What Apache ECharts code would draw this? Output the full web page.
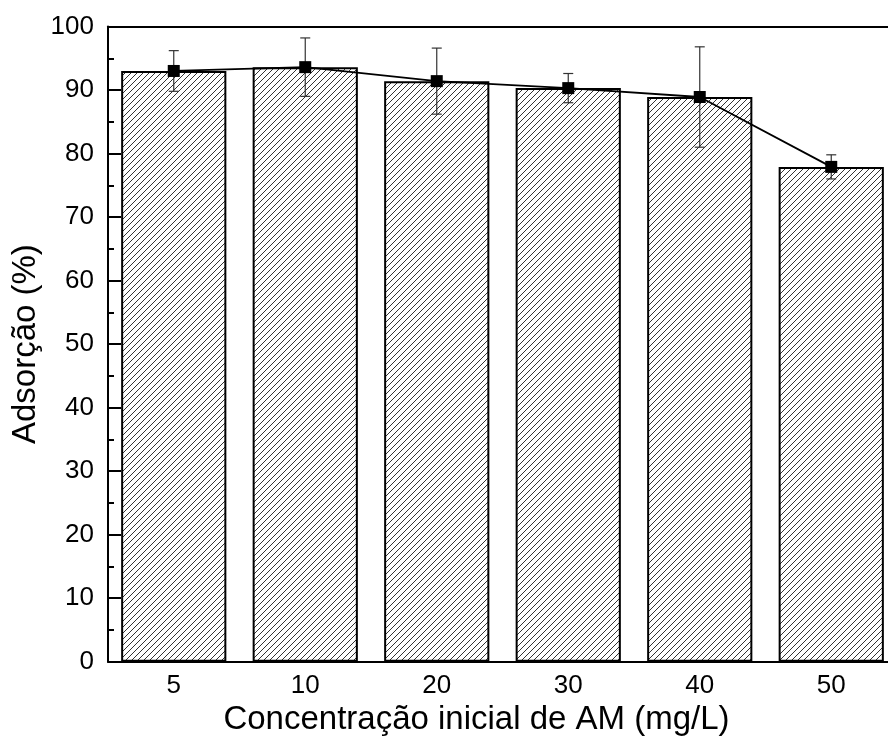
<!DOCTYPE html>
<html>
<head>
<meta charset="utf-8">
<script src="https://cdn.jsdelivr.net/npm/echarts@6/dist/echarts.min.js"></script>
<style>
  html, body { margin: 0; padding: 0; background: #fff; overflow: hidden; }
  #chart { width: 900px; height: 738px; }
</style>
</head>
<body>
<div id="chart"></div>
<script>
// Concentração inicial de azul de metileno (mg/L)
const concentracoes = ['5', '10', '20', '30', '40', '50'];
// Adsorção média (%)
const adsorcao = [93.0, 93.6, 91.4, 90.3, 88.9, 77.9];
// Desvio padrão (%)
const desvio = [3.2, 4.6, 5.2, 2.3, 7.9, 1.9];
// Marcas do eixo y
const yMin = 0, yMax = 100, yPasso = 10;

const FONT = 'Liberation Sans, Arial, sans-serif';

// Padrão hachurado diagonal para as barras
function hachura() {
  const s = 6;
  const c = document.createElement('canvas');
  c.width = s; c.height = s;
  const ctx = c.getContext('2d');
  ctx.fillStyle = '#fff';
  ctx.fillRect(0, 0, s, s);
  ctx.strokeStyle = '#333';
  ctx.lineWidth = 1;
  for (const k of [-s, 0, s]) {
    ctx.beginPath();
    ctx.moveTo(k, s);
    ctx.lineTo(k + s, 0);
    ctx.stroke();
  }
  return c;
}

const chart = echarts.init(document.getElementById('chart'), null, { renderer: 'canvas' });

const barrasErro = adsorcao.map((v, i) => [i, v - desvio[i], v + desvio[i]]);

chart.setOption({
  backgroundColor: '#fff',
  animation: false,
  grid: {
    left: 108, top: 26.5, width: 789, height: 635.2,
    containLabel: false,
    outerBoundsMode: 'none'
  },
  xAxis: [
    {
      type: 'category',
      data: concentracoes,
      position: 'bottom',
      axisLine: { lineStyle: { color: '#000', width: 2 } },
      axisTick: { show: false },
      axisLabel: { color: '#000', fontSize: 26, fontFamily: FONT, margin: 11 },
      name: 'Concentração inicial de AM (mg/L)',
      nameLocation: 'middle',
      nameGap: 38,
      nameTextStyle: { color: '#000', fontSize: 33, fontFamily: FONT, padding: [0, 52, 0, 0] }
    },
    {
      type: 'category',
      data: concentracoes,
      position: 'top',
      axisLine: { lineStyle: { color: '#000', width: 2 } },
      axisTick: { show: false },
      axisLabel: { show: false }
    }
  ],
  yAxis: {
    type: 'value',
    min: yMin, max: yMax, interval: yPasso,
    axisLine: { show: true, lineStyle: { color: '#000', width: 2 } },
    axisTick: { show: true, inside: true, length: 13, lineStyle: { color: '#000', width: 2 } },
    minorTick: { show: true, splitNumber: 2, length: 6, lineStyle: { color: '#000', width: 2 } },
    splitLine: { show: false },
    axisLabel: { color: '#000', fontSize: 26, fontFamily: FONT, margin: 14 },
    name: 'Adsorção (%)',
    nameLocation: 'middle',
    nameRotate: 90,
    nameGap: 66,
    nameMoveOverlap: false,
    nameTextStyle: { color: '#000', fontSize: 33, fontFamily: FONT }
  },
  series: [
    {
      type: 'bar',
      data: adsorcao,
      barCategoryGap: '20%',
      itemStyle: {
        color: { image: hachura(), repeat: 'repeat' },
        borderColor: '#000',
        borderWidth: 2
      },
      z: 1
    },
    {
      type: 'custom',
      data: barrasErro,
      renderItem: function (params, api) {
        const x = api.value(0);
        const baixo = api.coord([x, api.value(1)]);
        const alto = api.coord([x, api.value(2)]);
        const meia = 5;
        const estilo = { stroke: '#333', lineWidth: 1.2 };
        return {
          type: 'group',
          children: [
            { type: 'line', shape: { x1: alto[0], y1: alto[1], x2: baixo[0], y2: baixo[1] }, style: estilo },
            { type: 'line', shape: { x1: alto[0] - meia, y1: alto[1], x2: alto[0] + meia, y2: alto[1] }, style: estilo },
            { type: 'line', shape: { x1: baixo[0] - meia, y1: baixo[1], x2: baixo[0] + meia, y2: baixo[1] }, style: estilo }
          ]
        };
      },
      z: 2
    },
    {
      type: 'line',
      data: adsorcao,
      symbol: 'rect',
      symbolSize: 12,
      itemStyle: { color: '#000' },
      lineStyle: { color: '#000', width: 1.8 },
      z: 3
    }
  ]
});
</script>
</body>
</html>
